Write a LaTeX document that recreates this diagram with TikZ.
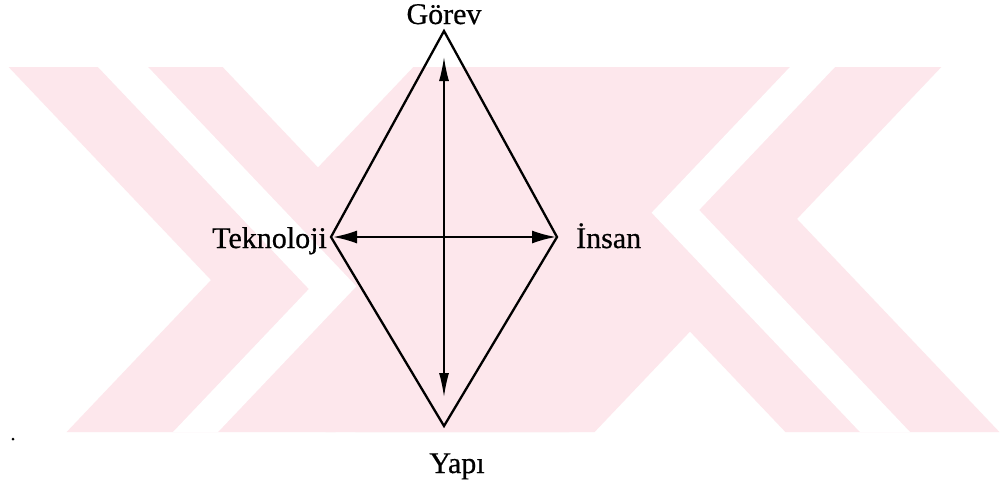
\documentclass[tikz,border=0pt]{standalone}
\usepackage{fontspec}
\setmainfont{Liberation Serif}
\usetikzlibrary{arrows.meta}
\definecolor{wm}{RGB}{253,231,236}
\tikzset{
  lbl/.style={font=\fontsize{30}{35}\selectfont\addfontfeature{FakeBold=0.6}, inner sep=0pt, text=black},
  edge/.style={draw=black, line width=2.3pt, line join=miter},
  vdbl/.style={draw=black, line width=1.5pt, {Latex[length=24pt,width=10pt]}-{Latex[length=24pt,width=10pt]}},
  hdbl/.style={draw=black, line width=2pt, {Latex[length=24pt,width=13pt]}-{Latex[length=24pt,width=13pt]}},
  wmband/.style={fill=wm},
  wmgap/.style={fill=white}
}
\begin{document}
\begin{tikzpicture}[x=1pt,y=-1pt]
\useasboundingbox (0,0) rectangle (1007,488);
\fill[white] (0,0) rectangle (1007,488);
% watermark
\begin{scope}
  \clip (0,67) rectangle (1007,432);
  % right X
  \fill[wmband] (438.65,67) -- (652.65,67) -- (999.4,432) -- (785.4,432) -- cycle;
  \fill[wmband] (672.35,67) -- (941.35,67) -- (594.6,432) -- (325.6,432) -- cycle;
  % left X (point reflection)
  \begin{scope}[shift={(1008,499)}, xscale=-1, yscale=-1]
    \fill[wmband] (438.65,67) -- (652.65,67) -- (999.4,432) -- (785.4,432) -- cycle;
    \fill[wmband] (672.35,67) -- (941.35,67) -- (594.6,432) -- (325.6,432) -- cycle;
    \fill[wmgap] (790,67) -- (651.6,212.7) -- (860,432) -- (910,432) -- (699.1,210.0) -- (835,67) -- cycle;
  \end{scope}
  \fill[wmgap] (790,67) -- (651.6,212.7) -- (860,432) -- (910,432) -- (699.1,210.0) -- (835,67) -- cycle;
\end{scope}
% diamond vertices
\coordinate (T) at (444,31);
\coordinate (B) at (444,426);
\coordinate (L) at (331,237);
\coordinate (R) at (557,237);
\coordinate (vt) at (444,57);
\coordinate (vb) at (444,397);
\coordinate (hl) at (333,237);
\coordinate (hr) at (556,237);
\draw[edge] (T) -- (R) -- (B) -- (L) -- cycle;
\draw[vdbl] (vt) -- (vb);
\draw[hdbl] (hl) -- (hr);
% labels
\node[lbl, anchor=base] (gorev) at (444,24) {Görev};
\node[lbl, anchor=base east] (tek) at (327,248) {Teknoloji};
\node[lbl, anchor=base west] (ins) at (576,248) {İnsan};
\node[lbl, anchor=base] (yapi) at (457,473) {Yapı};
\fill[black] (13,439) circle (1.5) coordinate (dot);
\end{tikzpicture}
\end{document}
